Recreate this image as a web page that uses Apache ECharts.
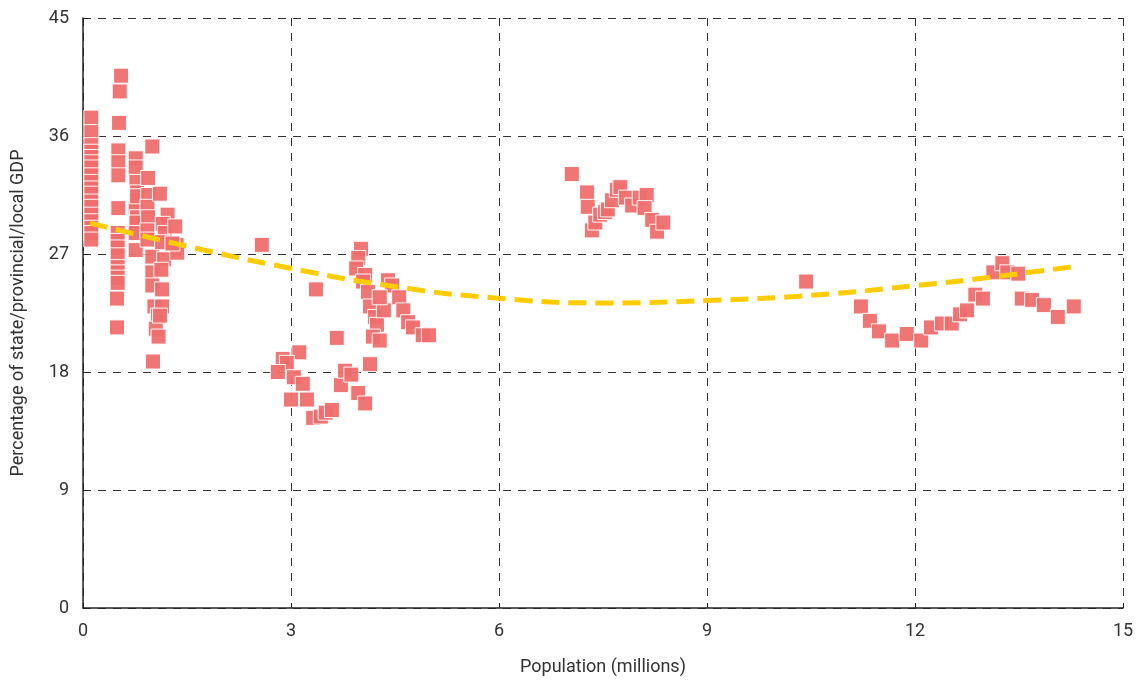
<!DOCTYPE html>
<html>
<head>
<meta charset="utf-8">
<script src="https://cdn.jsdelivr.net/npm/echarts@6/dist/echarts.min.js"></script>
<style>
html,body{margin:0;padding:0;background:#fff;}
#chart{width:1143px;height:681px;}
</style>
</head>
<body>
<div id="chart"></div>
<script>
var xTicks = [0, 3, 6, 9, 12, 15];
var yTicks = [0, 9, 18, 27, 36, 45];

// population (millions)
var popValues = [
	0.12,0.12,0.12,0.12,0.12,0.12,0.12,0.12,0.12,0.12,0.12,0.12,0.12,0.12,0.12,0.12,0.12,0.12,
	0.55,0.53,0.52,0.51,0.51,0.51,0.51,0.5,0.5,0.5,0.5,0.5,0.5,0.5,0.5,0.49,0.49,
	0.76,0.76,0.77,0.78,0.77,0.76,0.78,0.77,0.76,0.76,0.78,
	1.0,0.94,0.94,0.93,0.94,0.93,0.93,1.0,1.0,1.0,1.03,1.08,1.05,1.09,1.01,
	1.11,1.22,1.15,1.18,1.14,1.17,1.13,1.14,1.14,1.11,
	1.33,1.35,1.36,1.29,
	2.58,
	3.12,2.88,2.94,2.81,3.04,3.17,3.0,3.23,3.32,3.43,3.5,3.59,
	3.66,3.72,3.78,3.87,3.97,4.07,4.14,3.36,
	4.01,3.97,3.94,4.07,4.04,4.11,4.14,4.21,4.24,4.18,4.28,4.4,4.46,4.56,4.62,4.69,4.76,4.9,4.99,4.34,4.28,
	7.05,7.27,7.28,7.34,7.39,7.46,7.53,7.57,7.63,7.7,7.75,7.83,7.92,8.03,8.13,8.1,8.21,8.28,8.37,
	10.43,11.22,11.35,11.48,11.67,11.88,12.09,12.23,12.39,12.53,12.65,12.75,12.87,12.98,13.13,13.26,13.33,13.49,13.54,13.69,13.86,14.06,14.29
];
// percentage of state/provincial/local GDP
var gdpShare = [
	37.4,36.3,35.3,34.8,34.4,34.0,33.6,33.0,32.5,32.0,31.6,31.0,30.6,30.0,29.5,29.0,28.6,28.1,
	40.6,39.4,37.0,34.9,34.0,33.0,30.5,28.6,28.0,27.5,26.9,26.0,25.6,25.2,24.8,23.6,21.4,
	34.3,33.6,32.5,31.7,31.1,30.5,29.8,29.4,28.6,27.3,31.4,
	35.2,32.8,31.5,30.6,29.8,28.8,28.1,26.8,25.6,24.6,23.0,22.3,21.3,20.7,18.8,
	31.6,30.0,29.3,28.6,27.9,26.6,25.8,24.3,23.0,22.3,
	29.1,27.7,27.1,27.8,
	27.7,
	19.5,19.0,18.7,18.0,17.6,17.1,15.9,15.9,14.5,14.6,14.9,15.1,
	20.6,17.0,18.1,17.8,16.4,15.6,18.6,24.3,
	27.4,26.7,25.9,25.4,24.9,24.1,23.0,22.2,21.6,20.7,20.4,25.0,24.6,23.7,22.7,21.8,21.4,20.8,20.8,22.7,23.7,
	33.1,31.7,30.6,28.8,29.4,30.0,30.2,30.4,31.1,31.9,32.1,31.3,30.7,31.3,31.5,30.5,29.6,28.7,29.4,
	24.9,23.0,21.9,21.1,20.4,20.9,20.4,21.4,21.7,21.7,22.4,22.7,23.9,23.6,25.6,26.3,25.6,25.5,23.6,23.5,23.1,22.2,23.0
];

// trend line
var trendX = [0.1, 1.5, 2.9, 4.4, 5.94, 7.6, 8.99, 10.5, 12.03, 13.2, 14.31];
var trendY = [29.36, 27.6, 26.01, 24.6, 23.65, 23.27, 23.45, 23.85, 24.6, 25.3, 26.05];

var pts = popValues.map(function (x, i) { return [x, gdpShare[i]]; });
var trendPts = trendX.map(function (x, i) { return [x, trendY[i]]; });

var chart = echarts.init(document.getElementById('chart'));
var axisFont = { fontFamily: 'Roboto', fontSize: 18, color: '#333' };
chart.setOption({
	animation: false,
	grid: { left: 83, right: 20, top: 18, bottom: 73 },
	xAxis: {
		type: 'value', min: xTicks[0], max: xTicks[xTicks.length - 1], interval: 3,
		name: 'Population (millions)', nameLocation: 'middle', nameGap: 50,
		nameTextStyle: axisFont,
		axisLine: { show: true, onZero: false, lineStyle: { color: '#222', width: 1.5 } },
		axisTick: { show: true, inside: true, length: 5, lineStyle: { color: '#222' } },
		axisLabel: Object.assign({ margin: 14 }, axisFont),
		splitLine: { show: true, lineStyle: { color: '#333', type: [8, 7], width: 1 } }
	},
	yAxis: {
		type: 'value', min: yTicks[0], max: yTicks[yTicks.length - 1], interval: 9,
		name: 'Percentage of state/provincial/local GDP', nameLocation: 'middle', nameGap: 56,
		nameTextStyle: axisFont,
		axisLine: { show: true, onZero: false, lineStyle: { color: '#222', width: 1.5 } },
		axisTick: { show: true, inside: true, length: 5, lineStyle: { color: '#222' } },
		axisLabel: Object.assign({ margin: 14 }, axisFont),
		splitLine: { show: true, lineStyle: { color: '#333', type: [8, 7], width: 1 } }
	},
	series: [
		{
			type: 'scatter',
			symbol: 'rect',
			symbolSize: 15,
			data: pts,
			itemStyle: { color: '#ef6e6e', borderColor: '#fff', borderWidth: 1, opacity: 0.95 },
			z: 2
		},
		{
			type: 'line',
			data: trendPts,
			smooth: true,
			symbol: 'none',
			lineStyle: { color: '#ffcc00', width: 5, type: [18, 9] },
			z: 3
		}
	]
});
</script>
</body>
</html>
